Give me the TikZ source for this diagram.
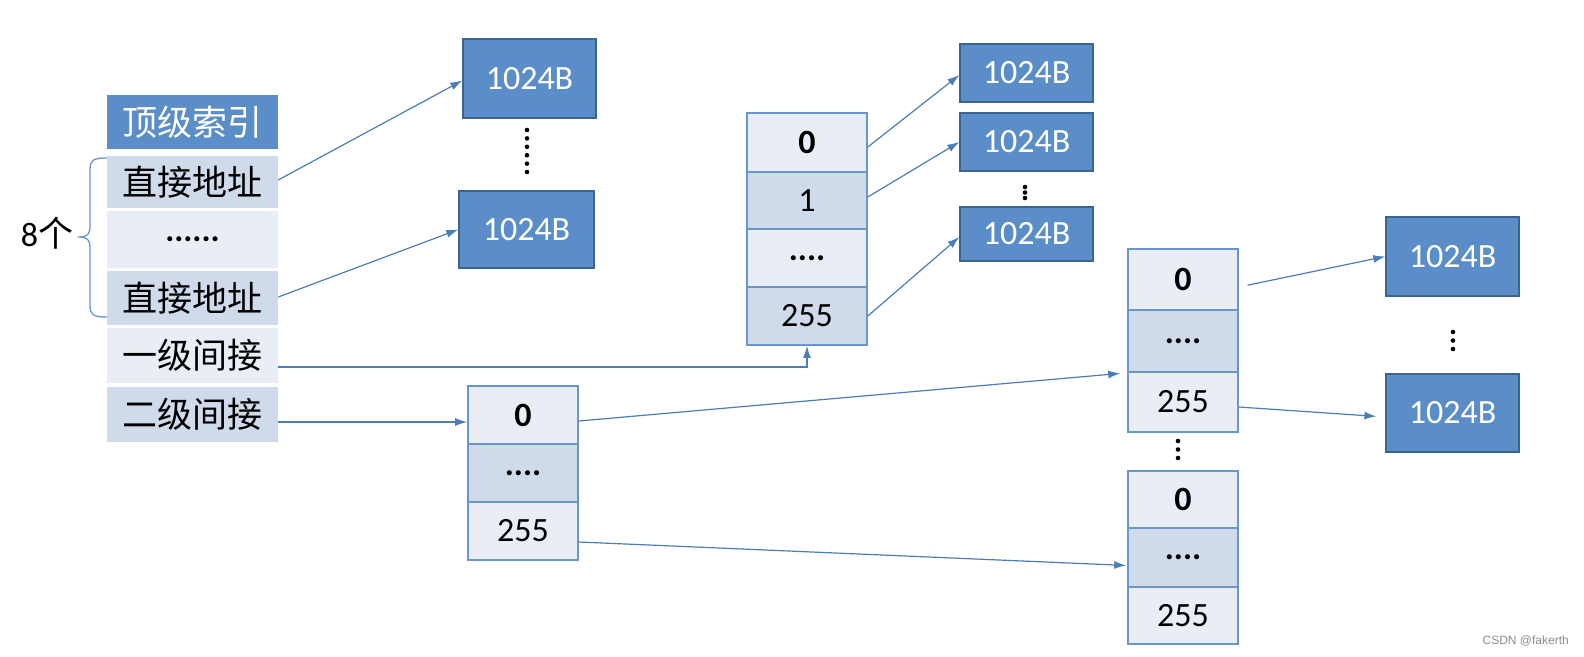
\documentclass[tikz,border=0pt]{standalone}
\usepackage{fontspec}
\setmainfont{Carlito}
\newfontfamily\cjk{Noto Sans CJK SC}
\newfontfamily\wmfont{Liberation Sans}
\usetikzlibrary{arrows.meta}
\definecolor{dblue}{RGB}{91,142,200}
\definecolor{dborder}{RGB}{60,100,145}
\definecolor{clight}{RGB}{233,238,246}
\definecolor{cdark}{RGB}{207,218,234}
\definecolor{cborder}{RGB}{105,150,205}
\definecolor{arr}{RGB}{74,126,187}
\tikzset{
  big/.style={font=\fontsize{34}{40}\selectfont},
  bigcjk/.style={font=\fontsize{35}{40}\selectfont\cjk},
  datab/.style={big, fill=dblue, draw=dborder, line width=1.3pt, text=white, inner sep=0pt, minimum width=133, minimum height=78},
  tcellL/.style={bigcjk, fill=clight, inner sep=0pt, minimum width=171, minimum height=55},
  tcellD/.style={bigcjk, fill=cdark, inner sep=0pt, minimum width=171, minimum height=55},
  bcellL/.style={big, fill=clight, draw=cborder, line width=1.6pt, inner sep=0pt},
  bcellD/.style={big, fill=cdark, draw=cborder, line width=1.6pt, inner sep=0pt},
  conn/.style={draw=arr, line width=1.2pt, -{Latex[length=12,width=8]}},
  vdot/.style={fill=black, circle, inner sep=0pt, minimum size=4.6},
}
\begin{document}
\begin{tikzpicture}[x=1pt,y=-1pt]
\useasboundingbox[fill=white] (0,0) rectangle (1584,656);

% top-level index table
\node[tcellD, fill=dblue, text=white, minimum height=54] (top) at (192.5,122) {顶级索引};
\node[tcellD, minimum height=52] (d1) at (192.5,182) {直接地址};
\node[tcellL, minimum height=57] (dd) at (192.5,239.5) {\fontsize{34}{40}\selectfont\rmfamily\bfseries ......};
\node[tcellD, minimum height=54] (d2) at (192.5,298) {直接地址};
\node[tcellL] (one) at (192.5,355.5) {一级间接};
\node[tcellD] (two) at (192.5,414.5) {二级间接};

% brace and label
\draw[cborder, line width=1.3pt] (107,158) .. controls (93,158) and (90,160) .. (90,170) -- (90,226)
  .. controls (90,234) and (88,237) .. (78,237) .. controls (88,237) and (90,240) .. (90,248) -- (90,305)
  .. controls (90,315) and (93,317) .. (107,317);
\node[big, inner sep=0pt] (eight) at (47,233) {8{\cjk\fontsize{35}{40}\selectfont 个}};

% direct data blocks
\node[datab, minimum width=133, minimum height=79] (L1) at (529.5,78.5) {1024B};
\node[datab, minimum width=135, minimum height=77] (L2) at (526.5,229.5) {1024B};
\foreach \i in {0,...,5} \node[vdot] (ld\i) at (527,130+\i*8.4) {};

% single indirect block
\node[bcellL, minimum width=120, minimum height=59] (m0) at (807,142.5) {\textbf{0}};
\node[bcellD, minimum width=120, minimum height=57] (m1) at (807,200.5) {1};
\node[bcellL, minimum width=120, minimum height=58] (m2) at (807,258) {\textbf{....}};
\node[bcellD, minimum width=120, minimum height=58] (m3) at (807,316) {255};

\node[datab, minimum height=58] (M1) at (1026.5,73) {1024B};
\node[datab, minimum height=58] (M2) at (1026.5,142) {1024B};
\node[datab, minimum height=54] (M3) at (1026.5,234) {1024B};
\foreach \i in {0,...,2} \node[vdot] (md\i) at (1025,187+\i*5.5) {};

% double indirect, first level
\node[bcellL, minimum width=110, minimum height=58] (a0) at (523,415) {\textbf{0}};
\node[bcellD, minimum width=110, minimum height=58] (a1) at (523,473) {\textbf{....}};
\node[bcellL, minimum width=110, minimum height=58] (a2) at (523,531) {255};

% double indirect, second level blocks
\node[bcellL, minimum width=110, minimum height=61] (b0) at (1183,279.5) {\textbf{0}};
\node[bcellD, minimum width=110, minimum height=62] (b1) at (1183,341) {\textbf{....}};
\node[bcellL, minimum width=110, minimum height=60] (b2) at (1183,402) {255};
\foreach \i in {0,...,2} \node[vdot] (bd\i) at (1178,441+\i*8.5) {};
\node[bcellL, minimum width=110, minimum height=57] (c0) at (1183,499.5) {\textbf{0}};
\node[bcellD, minimum width=110, minimum height=59] (c1) at (1183,557.5) {\textbf{....}};
\node[bcellL, minimum width=110, minimum height=57] (c2) at (1183,615.5) {255};

\node[datab, minimum height=79] (R1) at (1452.5,256.5) {1024B};
\node[datab, minimum height=78] (R2) at (1452.5,413) {1024B};
\foreach \i in {0,...,2} \node[vdot] (rd\i) at (1453,332+\i*8.5) {};

% connectors
\draw[conn] ([yshift=2]d1.east) -- ([yshift=-2]L1.west);
\draw[conn] ([yshift=1]d2.east) -- (L2.west);
\draw[conn] ([yshift=-11.5]one.east) -| (m3.south);
\draw[conn] ([yshift=-7.5]two.east) -- ([yshift=-7]a0.west);
\draw[conn] ([yshift=-4.5]m0.east) -- ([yshift=-2]M1.west);
\draw[conn] ([yshift=3.5]m1.east) -- (M2.west);
\draw[conn] (m3.east) -- ([yshift=-3]M3.west);
\draw[conn, shorten >=7] ([yshift=-6]a0.east) -- (b1.south west);
\draw[conn, shorten >=1] ([yshift=-11]a2.east) -- ([yshift=-8]c1.west);
\draw[conn, shorten <=9] ([yshift=-7.5]b0.east) -- (R1.west);
\draw[conn, shorten >=9] ([yshift=-5]b2.east) -- ([yshift=-4]R2.west);

% watermark
\node[font=\fontsize{12}{14}\selectfont\wmfont, text=black!45, anchor=east, inner sep=0pt] (wm) at (1569,641) {CSDN @fakerth};
\end{tikzpicture}
\end{document}
